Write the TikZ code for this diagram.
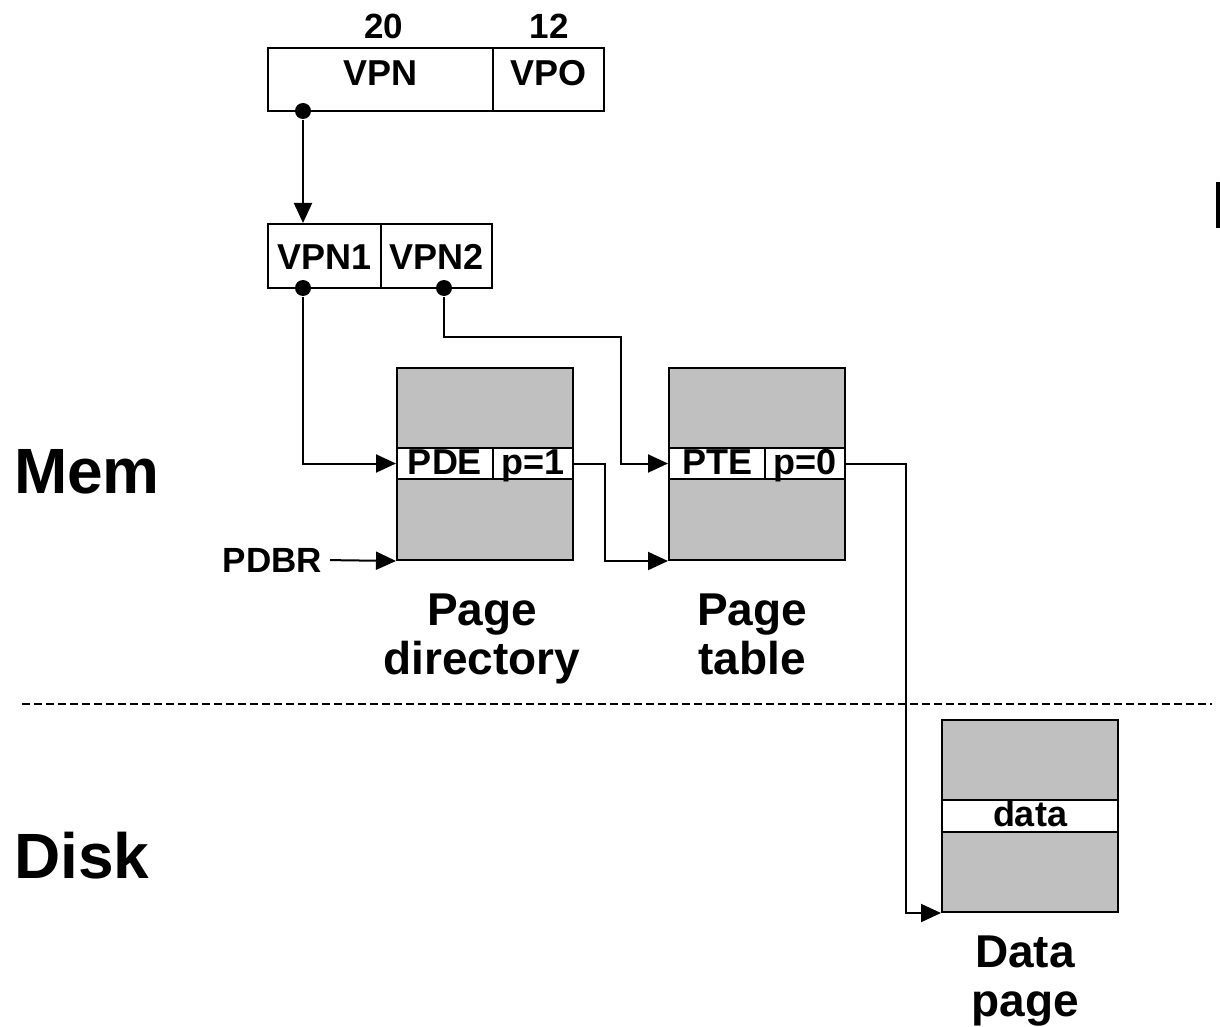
\documentclass[tikz,border=0pt]{standalone}
\usepackage{fontspec}
\setmainfont{Liberation Sans}
\usetikzlibrary{arrows.meta}

\definecolor{pagegray}{HTML}{C0C0C0}

\tikzset{
	vmpicture/.style = {
		x = 1pt,
		y = -1pt,
		line width = 2pt,
		arrow/.style = {
			draw,
			line width = 2pt,
			-{Triangle[length=20pt, width=18pt]},
		}
	},
	field/.style = {
		draw,
		fill = white,
		inner sep = 0pt,
		font = \fontsize{36}{36}\selectfont\bfseries,
		text height = 27pt,
		text depth = 0pt
	},
	bits/.style = {
		inner sep = 0pt,
		font = \fontsize{35}{35}\selectfont\bfseries
	},
	dot/.style = {
		circle,
		fill = black,
		inner sep = 0pt,
		minimum size = 16pt
	},
	page/.style = {
		draw,
		fill = pagegray,
		minimum width = 176pt,
		minimum height = 192pt
	},
	entry/.style = {
		draw,
		fill = white,
		inner sep = 0pt,
		minimum height = 31pt,
		font = \fontsize{36}{36}\selectfont\bfseries,
		text height = 23pt,
		text depth = 2pt
	},
	region/.style = {
		inner sep = 0pt,
		font = \fontsize{64}{64}\selectfont\bfseries
	},
	caption/.style = {
		inner sep = 0pt,
		anchor = north,
		align = center,
		font = \fontsize{46}{49}\selectfont\bfseries
	},
	divider/.style = {
		draw,
		line width = 1.5pt,
		dash pattern = on 8pt off 4pt
	}
}

\begin{document}
\begin{tikzpicture}[vmpicture]
	\useasboundingbox (0,0) rectangle (1220,1027);

	\node[bits] (b20) at (384,26) {20};
	\node[bits] (b12) at (549,26) {12};
	\node[field, minimum width = 225pt, minimum height = 63pt, text depth = 15pt] (vpn) at (380.5,80) {VPN};
	\node[field, minimum width = 111pt, minimum height = 63pt, text depth = 15pt] (vpo) at (548.5,80) {VPO};

	\node[field, minimum width = 113pt, minimum height = 64pt] (vpn1) at (324.5,256) {VPN1};
	\node[field, minimum width = 111pt, minimum height = 64pt] (vpn2) at (436.5,256) {VPN2};

	\node[page] (pd) at (485,464) {};
	\node[entry, minimum width = 96pt] (pde) at (445,463.5) {PDE};
	\node[entry, minimum width = 80pt] (pdp) at (533,463.5) {p=1};

	\node[page] (pt) at (757,464) {};
	\node[entry, minimum width = 96pt] (pte) at (717,463.5) {PTE};
	\node[entry, minimum width = 80pt] (ptp) at (805,463.5) {p=0};

	\node[page] (dp) at (1030,816) {};
	\node[entry, minimum width = 176pt, minimum height = 32pt] (data) at (1030,816) {data};

	\node[bits, anchor = east] (pdbr) at (323,560) {PDBR};

	\node[region, anchor = base west] (mem) at (13,493) {Mem};
	\node[region, anchor = base west] (disk) at (13,878) {Disk};

	\node[caption] (pdcap) at (482,593) {Page\\directory};
	\node[caption] (ptcap) at (752,593) {Page\\table};
	\node[caption] (dpcap) at (1025,935) {Data\\page};

	\node[dot] (d-vpn) at (303,111) {};
	\node[dot] (d-vpn1) at (303,288) {};
	\node[dot] (d-vpn2) at (444,288) {};

	\coordinate (turn) at (621,337);

	\path[divider] (22,704) -- (1212,704);

	\begin{scope}[every path/.style = arrow]
		\path (d-vpn) -- (d-vpn |- vpn1.north);
		\path (d-vpn1) |- (pde.west);
		\path (d-vpn2) |- (turn) |- (pte.west);
		\path (pdp.east) -- ++(31,0) |- (pt.south west);
		\path (ptp.east) -- ++(60,0) |- (dp.south west);
		\path[shorten <= 7pt] (pdbr.east) -- (pd.south west);
	\end{scope}

	\fill (1216,182) rectangle (1222,228);
\end{tikzpicture}
\end{document}
